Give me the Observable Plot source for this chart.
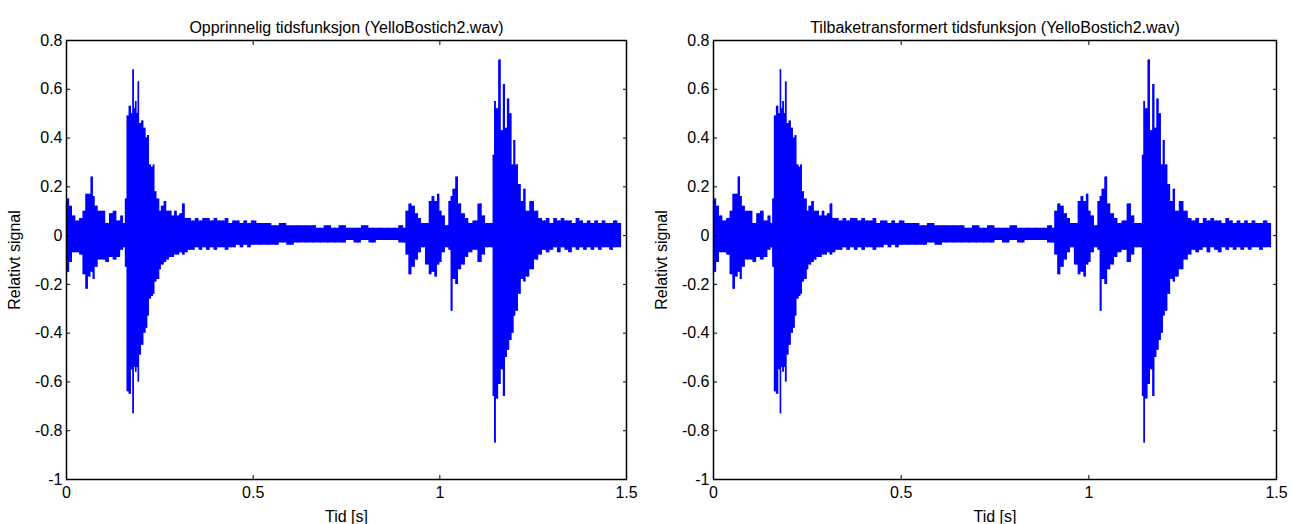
<!DOCTYPE html>
<html>
<head>
<meta charset="utf-8">
<script src="https://cdn.jsdelivr.net/npm/d3@7"></script>
<script src="https://cdn.jsdelivr.net/npm/@observablehq/plot@0.6"></script>
<style>
  html, body { margin: 0; padding: 0; background: #fff; }
  #wrap { display: flex; width: 1297px; height: 524px; }
</style>
</head>
<body>
<div id="wrap"></div>
<script>
// Envelope of the waveform (time in s, upper and lower relative signal)
const times = [0.000,0.005,0.012,0.020,0.030,0.040,0.048,0.055,0.062,0.069,0.073,0.080,0.090,0.100,0.110,0.120,0.130,0.140,0.150,0.155,
  0.160,0.164,0.171,0.176,0.179,0.183,0.186,0.190,0.193,0.198,0.204,0.210,0.215,0.219,0.225,0.230,0.234,0.238,0.247,0.250,
  0.258,0.265,0.272,0.279,0.286,0.293,0.300,0.307,0.314,0.322,0.330,0.340,0.350,0.360,0.370,0.380,0.390,0.400,0.410,0.420,
  0.430,0.440,0.450,0.460,0.470,0.480,0.490,0.500,0.520,0.540,0.560,0.580,0.600,0.620,0.640,0.660,0.680,0.700,0.720,0.740,
  0.760,0.780,0.800,0.820,0.840,0.860,0.880,0.900,0.905,0.913,0.921,0.930,0.939,0.947,0.955,0.968,0.975,0.983,0.990,0.997,
  1.002,1.010,1.020,1.028,1.032,1.038,1.047,1.053,1.064,1.073,1.082,1.095,1.109,1.118,1.127,1.140,1.145,1.148,1.154,1.161,
  1.167,1.173,1.178,1.184,1.190,1.196,1.200,1.207,1.214,1.222,1.227,1.235,1.247,1.260,1.270,1.280,1.290,1.300,1.310,1.320,
  1.330,1.340,1.350,1.360,1.370,1.380,1.390,1.400,1.410,1.420,1.430,1.440,1.450,1.460,1.470,1.484];
const upper = [0.14,0.15,0.12,0.08,0.06,0.07,0.10,0.17,0.17,0.24,0.16,0.12,0.10,0.10,0.05,0.09,0.10,0.06,0.08,0.05,
  0.15,0.49,0.53,0.50,0.68,0.52,0.55,0.50,0.63,0.46,0.47,0.44,0.40,0.41,0.29,0.28,0.29,0.18,0.15,0.10,
  0.12,0.14,0.10,0.10,0.08,0.10,0.08,0.09,0.13,0.07,0.07,0.06,0.07,0.06,0.07,0.07,0.06,0.07,0.06,0.06,
  0.07,0.05,0.06,0.06,0.05,0.06,0.05,0.06,0.05,0.05,0.04,0.05,0.04,0.04,0.04,0.04,0.03,0.04,0.03,0.04,
  0.03,0.03,0.04,0.03,0.03,0.03,0.03,0.04,0.03,0.10,0.13,0.12,0.09,0.07,0.05,0.05,0.14,0.16,0.14,0.17,
  0.10,0.08,0.04,0.14,0.16,0.19,0.24,0.13,0.09,0.07,0.05,0.06,0.13,0.08,0.05,0.05,0.33,0.55,0.52,0.72,
  0.43,0.62,0.44,0.56,0.50,0.29,0.39,0.29,0.21,0.14,0.19,0.10,0.14,0.10,0.07,0.06,0.07,0.05,0.07,0.06,
  0.07,0.06,0.06,0.05,0.07,0.06,0.05,0.06,0.05,0.06,0.05,0.06,0.05,0.05,0.06,0.05];
const lower = [-0.16,-0.15,-0.11,-0.07,-0.07,-0.08,-0.16,-0.22,-0.17,-0.15,-0.18,-0.13,-0.10,-0.10,-0.11,-0.09,-0.10,-0.09,-0.06,-0.05,
  -0.13,-0.64,-0.65,-0.55,-0.73,-0.54,-0.56,-0.54,-0.60,-0.49,-0.45,-0.40,-0.38,-0.33,-0.26,-0.25,-0.24,-0.19,-0.18,-0.14,
  -0.12,-0.11,-0.10,-0.09,-0.09,-0.08,-0.08,-0.07,-0.08,-0.07,-0.06,-0.06,-0.05,-0.06,-0.05,-0.06,-0.05,-0.06,-0.05,-0.05,
  -0.06,-0.05,-0.05,-0.04,-0.05,-0.04,-0.05,-0.04,-0.04,-0.04,-0.04,-0.03,-0.04,-0.03,-0.03,-0.03,-0.03,-0.03,-0.03,-0.03,
  -0.02,-0.03,-0.02,-0.03,-0.02,-0.02,-0.02,-0.03,-0.03,-0.08,-0.16,-0.13,-0.10,-0.07,-0.05,-0.12,-0.16,-0.15,-0.17,-0.12,
  -0.11,-0.07,-0.05,-0.06,-0.31,-0.18,-0.20,-0.14,-0.12,-0.09,-0.07,-0.06,-0.11,-0.08,-0.05,-0.05,-0.66,-0.85,-0.67,-0.61,
  -0.55,-0.66,-0.50,-0.47,-0.43,-0.40,-0.33,-0.31,-0.24,-0.18,-0.19,-0.17,-0.14,-0.10,-0.08,-0.06,-0.07,-0.06,-0.05,-0.07,
  -0.05,-0.06,-0.07,-0.05,-0.06,-0.05,-0.06,-0.05,-0.06,-0.05,-0.06,-0.05,-0.05,-0.06,-0.05,-0.05];

const xTicks = [0, 0.5, 1, 1.5];
const yTicks = [-1, -0.8, -0.6, -0.4, -0.2, 0, 0.2, 0.4, 0.6, 0.8];
const titles = ["Opprinnelig tidsfunksjon (YelloBostich2.wav)", "Tilbaketransformert tidsfunksjon (YelloBostich2.wav)"];
const xLabel = "Tid [s]";
const yLabel = "Relativt signal";

const data = times.map((t, i) => ({t, hi: upper[i], lo: lower[i]}));
const fmt = d => String(d);

function panel(title, width, mL, mR) {
  return Plot.plot({
    width, height: 524,
    marginLeft: mL, marginRight: mR, marginTop: 40, marginBottom: 45,
    x: {domain: [0, 1.5]},
    y: {domain: [-1, 0.8]},
    style: {fontFamily: "'Liberation Sans', Arial, sans-serif", fontSize: "16px", background: "white", color: "black", overflow: "visible"},
    marks: [
      Plot.areaY(data, {x: "t", y1: "lo", y2: "hi", fill: "#0000ff", curve: "step"}),
      Plot.ruleX(data, {x: "t", y1: "lo", y2: "hi", stroke: "#0000ff", strokeWidth: 1.2}),
      Plot.frame({stroke: "black", strokeWidth: 1.5}),
      Plot.axisX(xTicks, {anchor: "bottom", tickSize: 0, tickPadding: 7, tickFormat: fmt, label: xLabel, labelAnchor: "center", labelArrow: "none", labelOffset: 42}),
      Plot.axisX(xTicks, {anchor: "bottom", tickSize: -4, text: null, label: null}),
      Plot.axisX(xTicks, {anchor: "top", tickSize: -4, text: null, label: null}),
      Plot.axisY(yTicks, {anchor: "left", tickSize: 0, tickPadding: 4, tickFormat: fmt, label: yLabel, labelAnchor: "center", labelArrow: "none", labelOffset: 58}),
      Plot.axisY(yTicks, {anchor: "left", tickSize: -4, text: null, label: null}),
      Plot.axisY(yTicks, {anchor: "right", tickSize: -4, text: null, label: null}),
      Plot.text([title], {frameAnchor: "top", dy: -19, text: d => d, fontSize: 16})
    ]
  });
}

const wrap = document.getElementById("wrap");
wrap.appendChild(panel(titles[0], 648, 66, 22));
wrap.appendChild(panel(titles[1], 649, 65, 21));
</script>
</body>
</html>
